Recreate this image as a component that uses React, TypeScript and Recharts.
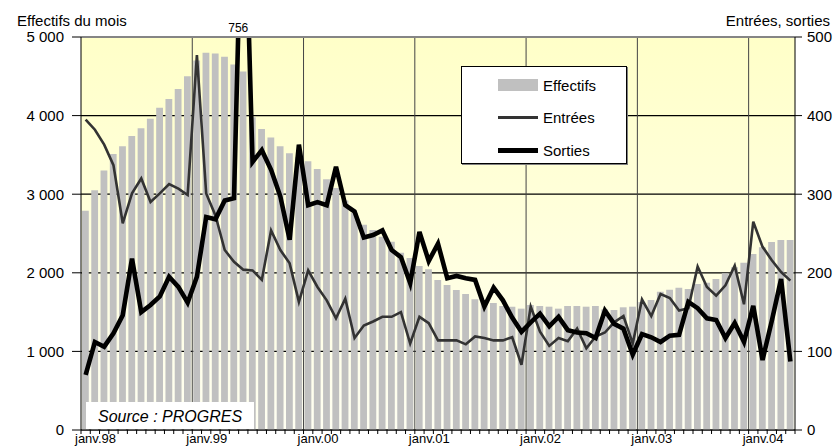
import React from 'react';
import { ComposedChart, Bar, Line, XAxis, YAxis, CartesianGrid, Legend, LabelList, ReferenceLine } from 'recharts';

// mois de janv.98 à mai 04
const MOIS = ['janv.', 'févr.', 'mars', 'avr.', 'mai', 'juin', 'juil.', 'août', 'sept.', 'oct.', 'nov.', 'déc.'];
const ANNEES = ['98', '99', '00', '01', '02', '03', '04'];
const categories = ANNEES.flatMap((a) => MOIS.map((m) => m + a)).slice(0, 77);

// effectifs du mois (axe de gauche)
const effectifs = [
  2790, 3050, 3300, 3510, 3610, 3740, 3840, 3960, 4100, 4210, 4340, 4500,
  4700, 4800, 4790, 4750, 4650, 4560, 3980, 3830, 3720, 3610, 3520, 3470,
  3420, 3320, 3190, 3080, 2920, 2760, 2610, 2545, 2460, 2396, 2256, 2188,
  2087, 2044, 1908, 1845, 1781, 1730, 1663, 1628, 1616, 1578, 1569, 1544,
  1590, 1578, 1569, 1544, 1578, 1578, 1569, 1578, 1535, 1527, 1561, 1569,
  1630, 1655, 1760, 1785, 1810, 1795, 1858, 1875, 1921, 1995, 2070, 2127,
  2239, 2326, 2392, 2417, 2417,
];

// entrées et sorties (axe de droite)
const entrees = [
  395, 382, 363, 337, 263, 301, 320, 290, 301, 313, 307, 299,
  477, 301, 273, 229, 214, 204, 203, 191, 254, 229, 212, 163,
  203, 182, 165, 142, 167, 117, 133, 138, 144, 144, 150, 110,
  144, 136, 114, 114, 114, 109, 119, 117, 114, 114, 118, 83,
  157, 125, 107, 117, 113, 129, 104, 119, 124, 137, 145, 110,
  166, 145, 173, 168, 152, 155, 208, 182, 171, 184, 209, 160,
  265, 233, 216, 201, 190,
];

const sorties = [
  70, 112, 106, 123, 146, 218, 150, 159, 170, 195, 182, 162,
  195, 271, 268, 292, 295, 756, 341, 356, 331, 297, 242, 363,
  286, 290, 286, 335, 286, 278, 245, 248, 254, 229, 220, 187,
  252, 215, 237, 193, 196, 193, 191, 157, 181, 165, 143, 125,
  137, 148, 132, 144, 127, 124, 123, 117, 152, 135, 129, 96,
  122, 118, 112, 120, 121, 163, 155, 142, 140, 117, 136, 112,
  158, 89, 139, 192, 87,
];

const leftTicks = [0, 1000, 2000, 3000, 4000, 5000];
const rightTicks = [0, 100, 200, 300, 400, 500];

const data = categories.map((mois, i) => ({
  mois,
  effectifs: effectifs[i],
  entrees: entrees[i],
  sorties: sorties[i],
}));

const W = 835;
const H = 446;
const LEFT_W = 81;
const RIGHT_W = 40;
const PLOT_W = W - LEFT_W - RIGHT_W;
const BAND = PLOT_W / categories.length;
const FONT = '"Liberation Sans", Arial, sans-serif';

const yearStarts = categories.map((c, i) => (c.startsWith('janv.') && i > 0 ? i : -1)).filter((i) => i > 0);

const legendStyle: Record<string, { kind: 'rect' | 'line'; color: string; width?: number }> = {
  effectifs: { kind: 'rect', color: '#c0c0c0' },
  entrees: { kind: 'line', color: '#333333', width: 3 },
  sorties: { kind: 'line', color: '#000000', width: 5 },
};

const MonthTick = (props: any) => {
  const { x, y, payload } = props;
  const left = x - BAND / 2;
  const isLast = payload.value === categories[categories.length - 1];
  return (
    <g>
      <line x1={left} x2={left} y1={y} y2={y + 4} stroke="#000" />
      {isLast && <line x1={x + BAND / 2} x2={x + BAND / 2} y1={y} y2={y + 4} stroke="#000" />}
      {String(payload.value).startsWith('janv.') && (
        <text x={left - 6} y={y + 13} fontSize={13} fill="#000" fontFamily={FONT}>
          {payload.value}
        </text>
      )}
    </g>
  );
};

const LegendBox = (props: any) => {
  const payload = props.payload || [];
  return (
    <div
      style={{
        width: 166,
        height: 98,
        boxSizing: 'border-box',
        background: '#fff',
        border: '1px solid #000',
        boxShadow: '1px 1px 0 #808080',
        fontFamily: FONT,
        fontSize: 15,
        color: '#000',
        paddingTop: 2,
      }}
    >
      {payload.map((p: any) => {
        const st = legendStyle[p.dataKey] || { kind: 'line', color: p.color, width: 2 };
        return (
          <div key={p.dataKey} style={{ height: 32.5, display: 'flex', alignItems: 'center' }}>
            <div style={{ width: 36 }} />
            {st.kind === 'rect' ? (
              <div style={{ width: 40, height: 12, background: st.color }} />
            ) : (
              <div style={{ width: 40, height: st.width, background: st.color }} />
            )}
            <span style={{ marginLeft: 5 }}>{p.value}</span>
          </div>
        );
      })}
    </div>
  );
};

const PeakLabel = (props: any) => {
  const { x, value } = props;
  if (value <= 500) return null;
  return (
    <text x={x - 5} y={32} textAnchor="middle" fontSize={12} fill="#000" fontFamily={FONT}>
      {value}
    </text>
  );
};

const fmtMilliers = (v: number) => (v === 0 ? '0' : `${v / 1000} 000`);

export default function App() {
  return (
    <div style={{ position: 'relative', width: W, height: H, fontFamily: FONT }}>
      <style>{'body{margin:0}'}</style>
      <ComposedChart
        width={W}
        height={H}
        data={data}
        margin={{ top: 37, right: 0, bottom: 0, left: 0 }}
        barCategoryGap={0}
      >
        <defs>
          <linearGradient id="fond" x1="0" y1="0" x2="0" y2="1">
            <stop offset="0" stopColor="#ffffc8" />
            <stop offset="1" stopColor="#fffff2" />
          </linearGradient>
        </defs>
        <CartesianGrid yAxisId="g" vertical={false} stroke="#000" strokeWidth={1.2} fill="url(#fond)" fillOpacity={1} />
        <CartesianGrid
          yAxisId="g"
          horizontal={false}
          stroke="#444"
          verticalCoordinatesGenerator={(args: any) => {
            const off = args && args.offset;
            const l = off && typeof off.left === 'number' ? off.left : LEFT_W;
            const w = off && typeof off.width === 'number' ? off.width : PLOT_W;
            return yearStarts.map((k) => l + (w * k) / categories.length);
          }}
        />
        <XAxis
          dataKey="mois"
          height={16}
          interval={0}
          tickLine={false}
          tickSize={0}
          tickMargin={0}
          axisLine={{ stroke: '#000' }}
          tick={<MonthTick />}
        />
        <YAxis
          yAxisId="g"
          domain={[0, 5000]}
          ticks={leftTicks}
          width={LEFT_W}
          axisLine={{ stroke: '#000' }}
          tickLine={{ stroke: '#000' }}
          tickSize={9}
          tickMargin={8}
          tickFormatter={fmtMilliers}
          tick={{ fontSize: 15, fill: '#000', fontFamily: FONT }}
        />
        <YAxis
          yAxisId="d"
          orientation="right"
          domain={[0, 500]}
          allowDataOverflow
          ticks={rightTicks}
          width={RIGHT_W}
          axisLine={{ stroke: '#000' }}
          tickLine={{ stroke: '#000' }}
          tickSize={7}
          tickMargin={5}
          tick={{ fontSize: 15, fill: '#000', fontFamily: FONT, textAnchor: 'start' }}
        />
        <Bar yAxisId="g" dataKey="effectifs" name="Effectifs" fill="#c0c0c0" barSize={6.8} isAnimationActive={false} />
        <Line
          yAxisId="d"
          type="linear"
          dataKey="entrees"
          name="Entrées"
          stroke="#333333"
          strokeWidth={2.6}
          dot={false}
          activeDot={false}
          isAnimationActive={false}
        />
        <Line
          yAxisId="d"
          type="linear"
          dataKey="sorties"
          name="Sorties"
          stroke="#000000"
          strokeWidth={4.6}
          dot={false}
          activeDot={false}
          isAnimationActive={false}
        >
          <LabelList dataKey="sorties" content={<PeakLabel />} />
        </Line>
        <ReferenceLine yAxisId="g" y={5000} stroke="#858585" strokeWidth={2} />
        <Legend
          layout="vertical"
          align="center"
          verticalAlign="middle"
          wrapperStyle={{ left: 461, top: 66, width: 166, height: 98 }}
          content={<LegendBox />}
        />
      </ComposedChart>

      <div style={{ position: 'absolute', left: 17, top: 13, fontSize: 15, lineHeight: '15px', color: '#000' }}>
        Effectifs du mois
      </div>
      <div style={{ position: 'absolute', right: 5, top: 13, fontSize: 15, lineHeight: '15px', color: '#000' }}>
        Entrées, sorties
      </div>
      <div
        style={{
          position: 'absolute',
          left: 86,
          top: 402,
          width: 168,
          height: 27,
          background: '#fff',
          fontSize: 16,
          fontStyle: 'italic',
          lineHeight: '16px',
          color: '#000',
        }}
      >
        <span style={{ position: 'absolute', left: 12, top: 7 }}>Source : PROGRES</span>
      </div>
    </div>
  );
}
